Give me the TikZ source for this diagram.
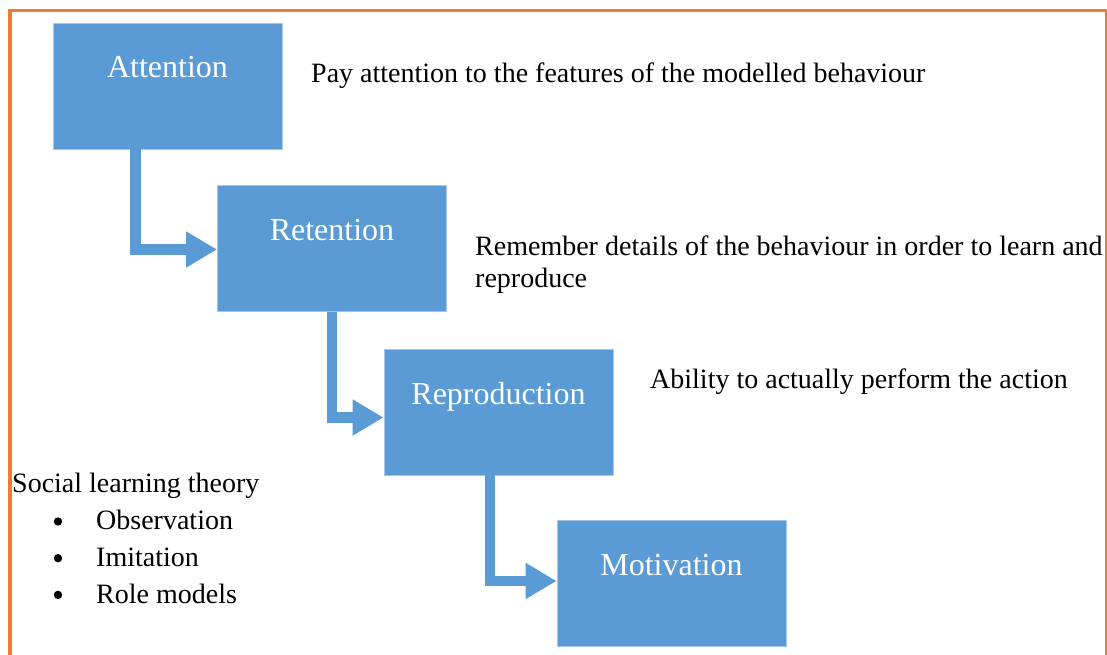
\documentclass[tikz,border=0pt]{standalone}
\usepackage{fontspec}
\setmainfont{Liberation Serif}
\usetikzlibrary{arrows.meta}
\definecolor{boxblue}{HTML}{5B9BD5}
\definecolor{frameorange}{HTML}{ED7D31}
\begin{document}
\begin{tikzpicture}[x=1pt,y=-1pt,
  stagebox/.style={rectangle, fill=boxblue, draw=boxblue!55!white, line width=0.8pt,
    minimum width=229pt, minimum height=126pt, inner sep=0pt, text=white,
    font=\fontsize{32}{38}\selectfont, text height=22pt, text depth=38pt},
  conn/.style={draw=boxblue, line width=10.5pt, line join=miter,
    -{Triangle[length=31pt,width=34pt]}},
  desc/.style={anchor=base west, inner sep=0pt, font=\fontsize{28}{32}\selectfont},
  listdot/.style={fill=black},
  frame/.style={draw=frameorange}]
\useasboundingbox (0,0) rectangle (1107,655);

% outer frame (open at the bottom)
\draw[frame, line width=3.5pt] (10,655) -- (10,10.5) -- (1107,10.5);
\draw[frame, line width=2pt] (1106,10.5) -- (1106,655);

% the four stages
\node[stagebox] (att) at (167.5,86)  {Attention};
\node[stagebox] (ret) at (332,248.5) {Retention};
\node[stagebox] (rep) at (498.5,412) {Reproduction};
\node[stagebox] (mot) at (671.5,583) {Motivation};

% elbow arrows between stages
\draw[conn] ([xshift=-32pt]att.south) |- ([yshift=-1pt]ret.west);
\draw[conn] (ret.south) |- ([yshift=-5.5pt]rep.west);
\draw[conn] ([xshift=-8.5pt]rep.south) |- ([yshift=2pt]mot.west);

% descriptions (base anchor of a multi-line node is its last line)
\node[desc] (d1) at (311,83) {Pay attention to the features of the modelled behaviour};
\node[desc, align=left] (d2) at (475,287) {Remember details of the behaviour in order to learn and\\reproduce};
\node[desc] (d3) at (650,388) {Ability to actually perform the action};

% summary list with its bullets
\node[desc, align=left, font=\fontsize{28}{36.7}\selectfont] (slt) at (12,603)
  {Social learning theory\\
   \hspace*{84pt}Observation\\
   \hspace*{84pt}Imitation\\
   \hspace*{84pt}Role models};
\foreach \k in {0,1,2}
  \fill[listdot] (58,{521.5+36.7*\k}) circle[radius=4.2];
\end{tikzpicture}
\end{document}
